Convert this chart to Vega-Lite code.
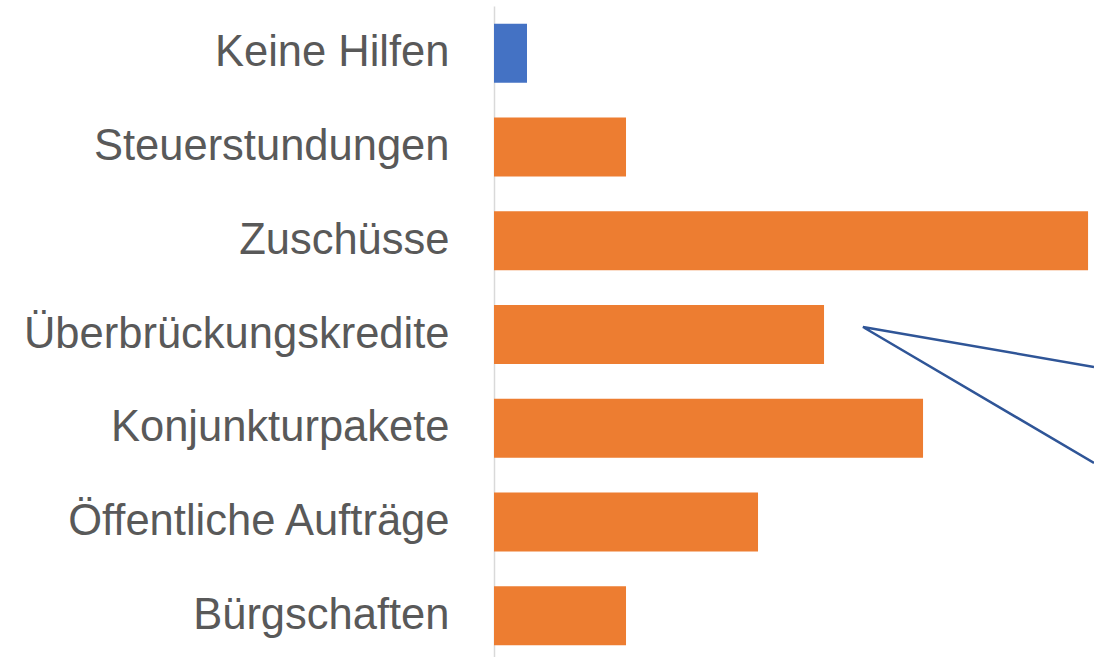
{
  "$schema": "https://vega.github.io/schema/vega-lite/v6.json",
  "width": 600,
  "height": 657,
  "autosize": "none",
  "padding": {"left": 494, "top": 6, "right": 0, "bottom": 0},
  "background": "white",
  "config": {"view": {"stroke": null}},
  "layer": [
    {
      "data": {"values": [
        {"kategorie": "Keine Hilfen", "wert": 1, "gruppe": "keine"},
        {"kategorie": "Steuerstundungen", "wert": 4, "gruppe": "hilfe"},
        {"kategorie": "Zuschüsse", "wert": 18, "gruppe": "hilfe"},
        {"kategorie": "Überbrückungskredite", "wert": 10, "gruppe": "hilfe"},
        {"kategorie": "Konjunkturpakete", "wert": 13, "gruppe": "hilfe"},
        {"kategorie": "Öffentliche Aufträge", "wert": 8, "gruppe": "hilfe"},
        {"kategorie": "Bürgschaften", "wert": 4, "gruppe": "hilfe"}
      ]},
      "mark": {"type": "bar"},
      "encoding": {
        "y": {
          "field": "kategorie", "type": "nominal", "sort": null,
          "scale": {"paddingInner": 0.37, "paddingOuter": 0.19},
          "axis": {
            "title": null, "ticks": false, "labelPadding": 45, "labelLimit": 0,
            "labelFont": "Liberation Sans", "labelFontSize": 43.5, "labelColor": "#595959",
            "domainColor": "#D9D9D9", "domainWidth": 1.5, "grid": false
          }
        },
        "x": {"field": "wert", "type": "quantitative", "scale": {"domain": [0, 18.18], "nice": false}, "axis": null},
        "color": {"field": "gruppe", "type": "nominal", "scale": {"domain": ["keine", "hilfe"], "range": ["#4472C4", "#ED7D31"]}, "legend": null}
      }
    },
    {
      "data": {"values": [
        {"x": 18.18, "y": 3.846, "i": 1},
        {"x": 11.18, "y": 3.42, "i": 2},
        {"x": 18.18, "y": 4.869, "i": 3}
      ]},
      "mark": {"type": "line", "color": "#2F5597", "strokeWidth": 2.5, "clip": false},
      "encoding": {
        "x": {"field": "x", "type": "quantitative"},
        "y": {"field": "y", "type": "quantitative", "scale": {"domain": [0, 7], "reverse": true, "nice": false, "zero": false}, "axis": null},
        "order": {"field": "i"}
      }
    }
  ],
  "resolve": {"scale": {"y": "independent"}}
}
